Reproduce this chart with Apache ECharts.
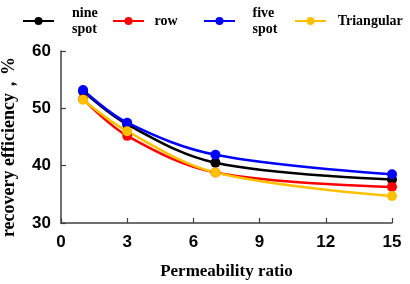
<!DOCTYPE html>
<html>
<head>
<meta charset="utf-8">
<script src="https://cdn.jsdelivr.net/npm/echarts@6/dist/echarts.min.js"></script>
<style>
  html, body { margin: 0; padding: 0; background: #fff; }
  #chart { width: 410px; height: 284px; }
</style>
</head>
<body>
<div id="chart"></div>
<script>
// 渗透率比 x 值
const ratios = [1, 3, 7, 15];
// 各井网的采收率
const nineSpot = [53.0, 47.2, 40.5, 37.6];
const rowData = [51.6, 45.2, 38.8, 36.3];
const fiveSpot = [53.2, 47.5, 41.9, 38.5];
const triangular = [51.5, 46.0, 38.8, 34.7];

const names = ['nine spot', 'row', 'five spot', 'Triangular'];
const colors = ['#000000', '#ff0000', '#0000ff', '#ffc000'];
const values = [nineSpot, rowData, fiveSpot, triangular];

// 图例位置（每个单独摆放）
const legendLeft = [17, 107, 198, 289];
const legendTop = [0, 8, 0, 8];
const legendPad = [13, 5.5, 12.5, 6.7];

const myChart = echarts.init(document.getElementById('chart'));

const serif = '"Liberation Serif", "Times New Roman", serif';
const sans = '"Liberation Sans", Arial, sans-serif';

const series = names.map((n, i) => ({
  name: n,
  type: 'line',
  smooth: 0.35,
  data: ratios.map((x, j) => [x, values[i][j]]),
  symbol: 'circle',
  symbolSize: 10,
  lineStyle: { color: colors[i], width: 2.5 },
  itemStyle: { color: colors[i] },
}));

const legends = names.map((n, i) => ({
  data: [n],
  left: legendLeft[i],
  top: legendTop[i],
  itemWidth: 31,
  itemHeight: 10,
  formatter: (name) => name.replace(' ', '\n'),
  textStyle: {
    fontFamily: serif,
    fontWeight: 'bold',
    fontSize: 14,
    lineHeight: 16,
    color: '#000',
    padding: [0, 0, 0, legendPad[i]],
  },
}));

const option = {
  animation: false,
  legend: legends,
  grid: { left: 61, right: 18, top: 51, bottom: 61, outerBoundsMode: 'none', containLabel: false },
  xAxis: {
    type: 'value',
    min: 0,
    max: 15,
    interval: 3,
    name: 'Permeability ratio',
    nameLocation: 'middle',
    nameGap: 40,
    nameTextStyle: { fontFamily: serif, fontWeight: 'bold', fontSize: 17, color: '#000' },
    axisLine: { lineStyle: { color: '#404040', width: 1.5 } },
    axisTick: { inside: true, length: 5, lineStyle: { color: '#404040', width: 1.2 } },
    axisLabel: { fontFamily: sans, fontWeight: 'bold', fontSize: 17, color: '#000', margin: 11 },
    splitLine: { show: false },
  },
  yAxis: {
    type: 'value',
    min: 30,
    max: 60,
    interval: 10,
    name: 'recovery efficiency，%',
    nameLocation: 'middle',
    nameGap: 43,
    nameTextStyle: {
      fontFamily: serif, fontWeight: 'bold', fontSize: 18, color: '#000',
      padding: [0, 20, 0, 0],
    },
    axisLine: { show: true, lineStyle: { color: '#404040', width: 1.5 } },
    axisTick: { show: true, inside: true, length: 5, lineStyle: { color: '#404040', width: 1.2 } },
    axisLabel: { fontFamily: sans, fontWeight: 'bold', fontSize: 17, color: '#000', margin: 10 },
    splitLine: { show: false },
  },
  series: series,
};

myChart.setOption(option);
</script>
</body>
</html>
